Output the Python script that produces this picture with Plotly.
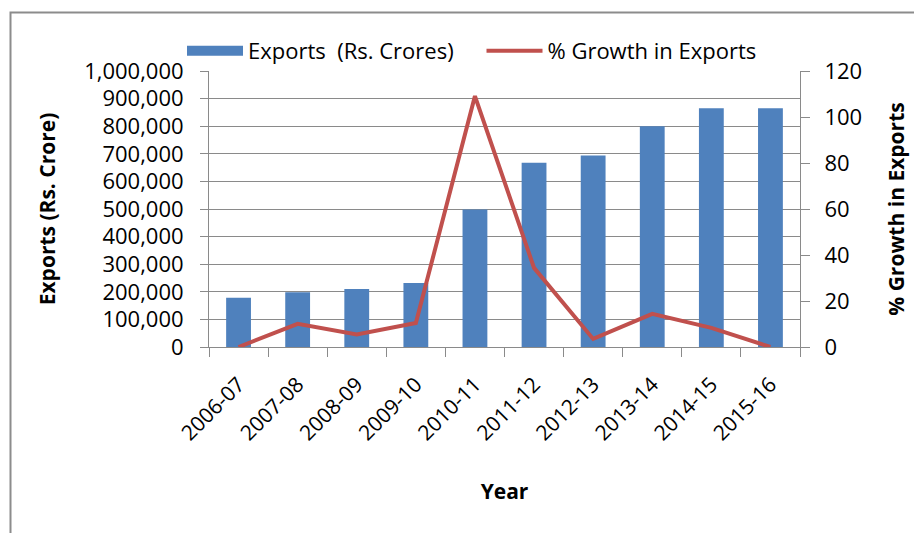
import plotly.graph_objects as go

years = ["2006-07", "2007-08", "2008-09", "2009-10", "2010-11",
         "2011-12", "2012-13", "2013-14", "2014-15", "2015-16"]
exports = [178000, 198000, 210000, 232000, 498000,
           668000, 694000, 800000, 865000, 865000]
growth = [0.0, 10.1, 5.4, 10.4, 109.1, 34.4, 3.5, 14.4, 8.3, 0.0]

W, H = 922, 533
OFF = 8  # page body margin
L, T = 209 - OFF, 71 - OFF
pw, ph = 591, 276
R = W - L - pw
B = H - T - ph

def px(x):  # page pixel -> paper
    return (x - OFF - L) / pw

def py(y):
    return (T + ph + OFF - y) / ph

FONT = "Open Sans"
GRID = "#8a8a8a"
BLUE = "#4F81BD"
RED = "#C0504D"

fig = go.Figure()
fig.add_trace(go.Bar(
    x=years, y=exports, name="Exports\u00a0 (Rs. Crores)",
    marker=dict(color=BLUE, line=dict(width=0)),
    yaxis="y", showlegend=False,
))
# legend-only entry for a wide bar swatch
fig.add_trace(go.Scatter(
    x=[None], y=[None], name="Exports\u00a0 (Rs. Crores)\u00a0\u00a0\u00a0\u00a0", mode="lines",
    line=dict(color=BLUE, width=13), yaxis="y", hoverinfo="skip",
))
fig.add_trace(go.Scatter(
    x=years, y=growth, name="% Growth in Exports", mode="lines",
    line=dict(color=RED, width=4),
    yaxis="y2",
))

fig.update_layout(
    width=W, height=H,
    margin=dict(l=L, r=R, t=T, b=B, autoexpand=False),
    paper_bgcolor="white", plot_bgcolor="white",
    font=dict(family=FONT, size=22, color="#000000"),
    bargap=0.58,
    showlegend=True,
    legend=dict(orientation="h", x=px(182), xanchor="left", y=py(51), yanchor="middle",
                font=dict(family=FONT, size=22), itemwidth=56,
                bgcolor="rgba(0,0,0,0)", traceorder="normal"),
    xaxis=dict(
        type="category", range=[-0.5, 9.5],
        tickson="boundaries", ticks="outside", ticklen=9, tickcolor=GRID,
        showline=True, linecolor=GRID, linewidth=1,
        showgrid=False, tickangle=-45, ticklabelstandoff=16,
        tickfont=dict(family=FONT, size=21),
        title=dict(text="<b>Year</b>", font=dict(family=FONT, size=21), standoff=39),
    ),
    yaxis=dict(
        range=[0, 1000000], dtick=100000, tickformat=",",
        ticks="outside", ticklen=8, tickcolor=GRID,
        showline=True, linecolor=GRID, linewidth=1,
        showgrid=True, gridcolor=GRID, gridwidth=1,
        zeroline=False, ticklabelstandoff=12,
        tickfont=dict(family=FONT, size=22),
        title=dict(text="<b>Exports (Rs. Crore)</b>", font=dict(family=FONT, size=21), standoff=22),
    ),
    yaxis2=dict(
        overlaying="y", side="right", range=[0, 120], dtick=20,
        ticks="outside", ticklen=9, tickcolor=GRID,
        showline=True, linecolor=GRID, linewidth=1,
        showgrid=False, zeroline=False, ticklabelstandoff=10,
        tickfont=dict(family=FONT, size=22),
        title=dict(text="<b>% Growth in Exports</b>", font=dict(family=FONT, size=21), standoff=28),
    ),
    shapes=[dict(type="rect", xref="paper", yref="paper",
                 x0=px(10.5), y0=py(560), x1=px(945), y1=py(12.5),
                 line=dict(color="#8c8c8c", width=2), fillcolor="rgba(0,0,0,0)",
                 layer="below")],
)

fig.write_html("out.html")
